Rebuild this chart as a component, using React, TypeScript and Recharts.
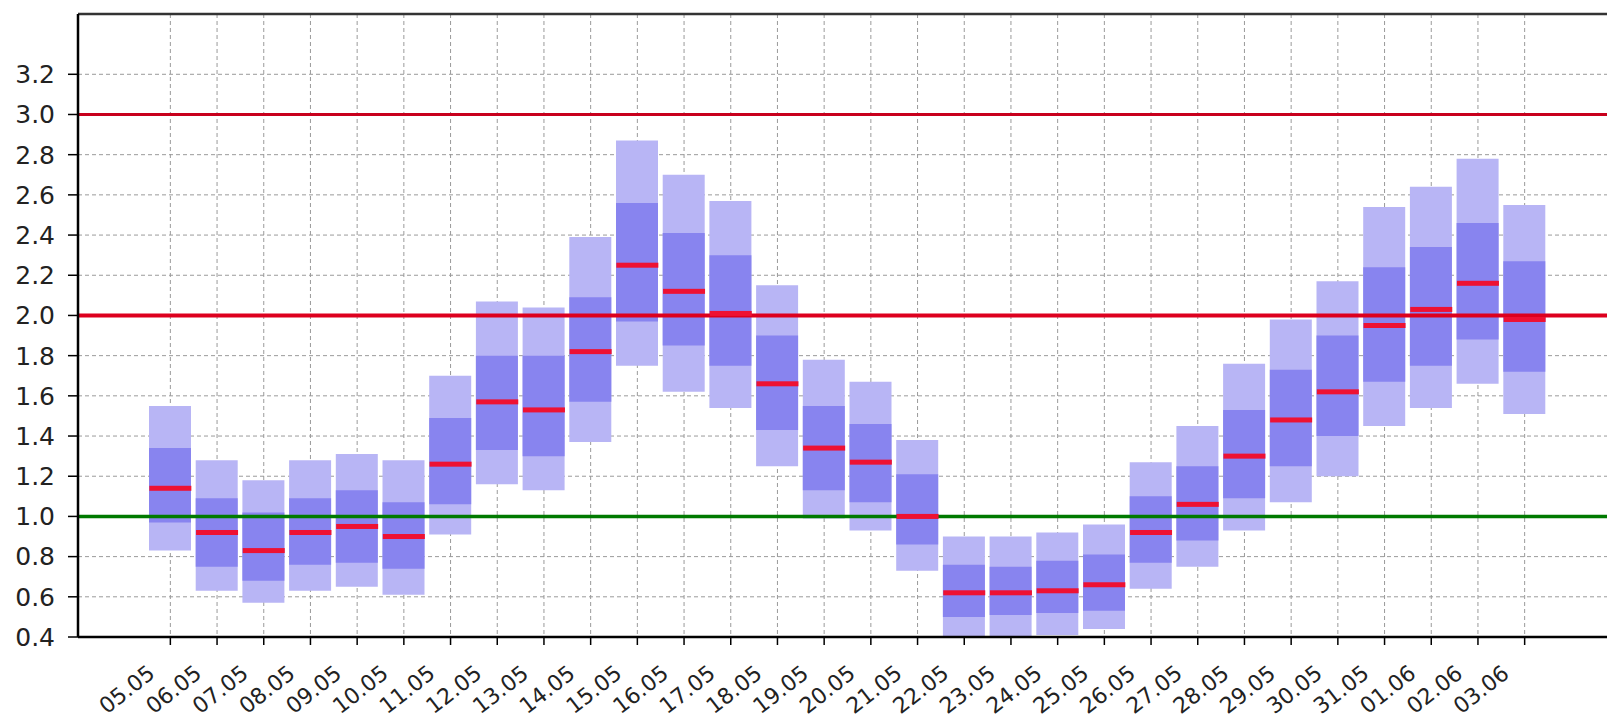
import {
  ComposedChart,
  Bar,
  Scatter,
  XAxis,
  YAxis,
  CartesianGrid,
  ReferenceLine,
} from 'recharts'

const DATES = [
  '05.05', '06.05', '07.05', '08.05', '09.05', '10.05', '11.05', '12.05', '13.05', '14.05',
  '15.05', '16.05', '17.05', '18.05', '19.05', '20.05', '21.05', '22.05', '23.05', '24.05',
  '25.05', '26.05', '27.05', '28.05', '29.05', '30.05', '31.05', '01.06', '02.06', '03.06',
]

// outer band (light box)
const HIGH = [
  1.55, 1.28, 1.18, 1.28, 1.31, 1.28, 1.7, 2.07, 2.04, 2.39,
  2.87, 2.7, 2.57, 2.15, 1.78, 1.67, 1.38, 0.9, 0.9, 0.92,
  0.96, 1.27, 1.45, 1.76, 1.98, 2.17, 2.54, 2.64, 2.78, 2.55,
]
const LOW = [
  0.83, 0.63, 0.57, 0.63, 0.65, 0.61, 0.91, 1.16, 1.13, 1.37,
  1.75, 1.62, 1.54, 1.25, 0.99, 0.93, 0.73, 0.4, 0.4, 0.41,
  0.44, 0.64, 0.75, 0.93, 1.07, 1.2, 1.45, 1.54, 1.66, 1.51,
]

// inner band (dark box)
const Q3 = [
  1.34, 1.09, 1.02, 1.09, 1.13, 1.07, 1.49, 1.8, 1.8, 2.09,
  2.56, 2.41, 2.3, 1.9, 1.55, 1.46, 1.21, 0.76, 0.75, 0.78,
  0.81, 1.1, 1.25, 1.53, 1.73, 1.9, 2.24, 2.34, 2.46, 2.27,
]
const Q1 = [
  0.97, 0.75, 0.68, 0.76, 0.77, 0.74, 1.06, 1.33, 1.3, 1.57,
  1.97, 1.85, 1.75, 1.43, 1.13, 1.07, 0.86, 0.5, 0.51, 0.52,
  0.53, 0.77, 0.88, 1.09, 1.25, 1.4, 1.67, 1.75, 1.88, 1.72,
]

const MEDIAN = [
  1.14, 0.92, 0.83, 0.92, 0.95, 0.9, 1.26, 1.57, 1.53, 1.82,
  2.25, 2.12, 2.01, 1.66, 1.34, 1.27, 1.0, 0.62, 0.62, 0.63,
  0.66, 0.92, 1.06, 1.3, 1.48, 1.62, 1.95, 2.03, 2.16, 1.98,
]

const Y_TICKS = [0.4, 0.6, 0.8, 1.0, 1.2, 1.4, 1.6, 1.8, 2.0, 2.2, 2.4, 2.6, 2.8, 3.0, 3.2]

const BOX_W = 42
const FONT = 'DejaVu Sans'

const data = DATES.map((date, i) => ({
  date,
  outer: [LOW[i], HIGH[i]],
  inner: [Q1[i], Q3[i]],
  med: MEDIAN[i],
}))

const DateTick = (props: any) => {
  const { x, y, payload } = props
  const ax = x - 14
  const ay = y + 31
  return (
    <text
      x={ax}
      y={ay}
      transform={`rotate(-38 ${ax} ${ay})`}
      textAnchor="end"
      fontSize={22}
      fontFamily={FONT}
      fill="#222"
    >
      {payload.value}
    </text>
  )
}

const MedianMark = (props: any) => {
  const { cx, cy } = props
  return <rect x={cx - BOX_W / 2} y={cy - 2.5} width={BOX_W} height={5} fill="#ee1133" />
}

const pad = { left: 69, right: 69 }

export default function App() {
  return (
    <div
      style={{
        position: 'fixed',
        left: 0,
        top: 0,
        width: 1607,
        height: 721,
        overflow: 'hidden',
        background: '#fff',
      }}
    >
      <ComposedChart
        width={1640}
        height={721}
        data={data}
        margin={{ top: 14, right: 23, bottom: 0, left: 0 }}
      >
        <CartesianGrid xAxisId="main" stroke="#9a9a9a" strokeDasharray="4 3" />
        <XAxis xAxisId="inner" dataKey="date" padding={pad} height={0} hide />
        <XAxis
          xAxisId="main"
          dataKey="date"
          interval={0}
          padding={pad}
          height={84}
          tickSize={8}
          tickMargin={0}
          tick={<DateTick />}
          tickLine={{ stroke: '#000', strokeWidth: 1.5 }}
          axisLine={{ stroke: '#000', strokeWidth: 2.5 }}
        />
        <YAxis
          type="number"
          domain={[0.4, 3.5]}
          ticks={Y_TICKS}
          allowDataOverflow
          width={78}
          tickSize={10}
          tickMargin={13}
          tickFormatter={(v: number) => v.toFixed(1)}
          tick={{ fontSize: 25, fontFamily: FONT, fill: '#222' }}
          tickLine={{ stroke: '#000', strokeWidth: 1.5 }}
          axisLine={{ stroke: '#000', strokeWidth: 2.5 }}
        />
        <Bar
          xAxisId="main"
          dataKey="outer"
          barSize={BOX_W}
          fill="#b8b5f5"
          isAnimationActive={false}
        />
        <Bar
          xAxisId="inner"
          dataKey="inner"
          barSize={BOX_W}
          fill="#8884ef"
          isAnimationActive={false}
        />
        <Scatter
          xAxisId="main"
          dataKey="med"
          shape={<MedianMark />}
          isAnimationActive={false}
        />
        <ReferenceLine xAxisId="main" y={3.0} stroke="#c8001c" strokeWidth={3} />
        <ReferenceLine xAxisId="main" y={2.0} stroke="#dd001e" strokeWidth={4} />
        <ReferenceLine xAxisId="main" y={1.0} stroke="#007a00" strokeWidth={3.5} />
        <ReferenceLine xAxisId="main" y={3.5} stroke="#333" strokeWidth={2.5} />
      </ComposedChart>
    </div>
  )
}
